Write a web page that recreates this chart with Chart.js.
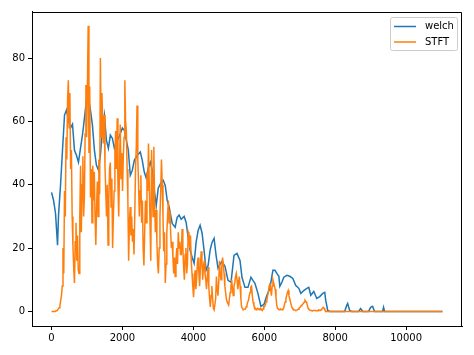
<!DOCTYPE html>
<html>
<head>
<meta charset="utf-8">
<script src="https://cdn.jsdelivr.net/npm/chart.js@4.4.1/dist/chart.umd.min.js"></script>
<style>
  html, body { margin: 0; padding: 0; background: #fff; }
</style>
</head>
<body>
<canvas id="chart" width="474" height="355"></canvas>
<script>
// Ticks
const xTicks = [0, 2000, 4000, 6000, 8000, 10000];
const yTicks = [0, 20, 40, 60, 80];

// welch PSD (frequency in Hz, value)
const welchFreq = [0,56,112,169,197,253,309,366,422,478,534,591,647,703,759,816,872,928,984,1040,
  1097,1153,1209,1265,1322,1378,1434,1490,1547,1603,1659,1715,1772,1828,1912,1997,2053,2109,2165,2221,
  2278,2334,2418,2503,2559,2615,2671,2728,2784,2840,2896,2953,3009,3093,3149,3206,3262,3318,3403,3487,
  3543,3599,3656,3740,3796,3852,3909,3965,4021,4077,4134,4190,4246,4302,4359,4415,4471,4527,4584,4640,
  4696,4752,4809,4893,4977,5062,5146,5230,5315,5371,5455,5540,5624,5680,5736,5821,5905,5990,6074,6158,
  6243,6299,6355,6411,6439,6496,6552,6636,6721,6805,6889,6974,7030,7114,7199,7255,7311,7396,7480,7564,
  7649,7705,7733,7789,7845,8267,8324,8352,8408,8464,8661,8717,8774,8942,8999,9055,9111,9336,9364,9392,
  11025];
const welchVals = [37.6,35.1,31.0,20.9,30.4,39.8,50.9,62.0,63.6,60.4,57.9,59.1,50.9,49.3,47.1,51.5,55.7,61.0,66.7,67.7,
  63.6,58.8,50.9,46.2,44.6,49.3,57.2,62.0,54.1,51.5,55.7,54.7,51.5,53.4,55.3,57.9,57.2,54.1,50.9,43.0,
  44.6,47.7,49.3,50.3,47.7,44.0,42.1,45.2,47.1,44.6,38.3,33.5,38.9,40.8,41.4,39.8,35.1,32.9,27.8,26.6,
  29.7,30.4,29.1,30.0,28.1,23.4,19.3,17.1,15.2,21.8,25.6,27.2,24.7,19.3,13.0,14.5,19.3,21.8,23.1,17.7,
  13.6,14.9,15.8,14.2,9.8,9.2,17.7,18.3,16.1,10.8,7.6,7.6,10.8,9.8,8.9,5.7,1.6,2.2,5.1,7.3,
  13.0,13.0,12.0,11.1,7.9,9.2,10.8,11.4,11.1,10.4,8.2,7.3,5.7,6.6,7.3,7.6,5.1,6.3,4.1,4.7,
  5.7,6.0,3.5,0.3,0,0,1.9,2.5,0.3,0,0,0.9,0,0,1.3,1.6,0,0,1.3,0,
  0];

// STFT mean spectrum, one value every STFT_STEP Hz from 0 Hz
const STFT_STEP = 21.53;
const stftVals = [
  0,0,0,0,0,0,0.2,0.3,0.5,0.8,
  1.2,2,3.5,5,8,20,12,38,30,55,
  48,67,73,58,69,45,51,30,21,14,
  9,22,28,16,24,13,12,30,46,25,
  40,49,30,36,56,71.5,55,72,90.2,50,
  71,36,45,28,46,35,44,30,21,33,
  41,30,48,37,80,55,69,60,53,62,
  46,38,30,40,21,35,45,47,33,42,
  20,30,38,50,57,45,61,40,30,45,
  59,42,50,38,49,55,73,60,57,45,
  35,16,28,33,24,30,22,26,18,30,
  45,52,65,48,40,30,38,43,28,35,
  20,14.5,25,35,28,44,38,53,40,28,
  16,51,40,30,52,35,25,32,22,15,
  12,20,30,38,48,40,30,19,25,9,
  15,25,30,35,28,32,25,20,22,17,
  12,17,11,16,20,15,25,20,22,18,
  18,26,20,14,10,18,20,12,15,25,
  24,20,24,16,12,8,4.5,9,13,7,
  10,15,17,12,8,14,19,16,10,14,
  16,12,10,7,11,14,8,4,1.4,5,
  8,4,1,0.5,0.5,4,11,7,5,9,
  16,12,10,14,17,15,12,8,6,4,
  3,2.5,2,4,6,8,10,7,5,8,
  9,11,12,10,7,9,11,8,4,1.4,
  1,0.5,0.5,0.8,0.8,1.5,2,3,3.5,5,
  6,7.7,8,5,3,2,1.4,0.8,0.5,0.8,
  1,0.8,0.5,0.8,1,0.5,0.3,0.8,1.5,1.5,
  2,3,3.5,5,6,8,9,7,5,8,
  10,9,8,7,4.5,2,1,0.8,0.5,0.6,
  0.8,0.5,0.5,0.8,1,2,3,4,5,6,
  6.6,5,4,3,2,1.2,0.8,0.6,0.5,0.4,
  0.3,0.4,0.5,0.7,1,1.2,1.5,1.8,2,2.3,
  2.5,3,3.5,3.2,3,2,1,0.7,0.5,0.4,
  0.3,0.2,0.2,0.3,0.3,0.3,0.3,0.2,0.2,0.3,
  0.5,0.3,0.3,0.5,0.8,1.1,1.3,1,0.5,0.2,
  0];
const stftEndFreq = 11025;

const welchPoints = welchFreq.map((f, i) => ({ x: f, y: welchVals[i] }));
const stftPoints = stftVals.map((v, i) => ({ x: i * STFT_STEP, y: v }));
stftPoints.push({ x: stftEndFreq, y: 0 });

const FONT = { family: 'DejaVu Sans', size: 10 };

// Top and right spines
const framePlugin = {
  id: 'frame',
  afterDraw(chart) {
    const { ctx, chartArea: a } = chart;
    ctx.save();
    ctx.strokeStyle = '#000';
    ctx.lineWidth = 1;
    ctx.beginPath();
    ctx.moveTo(Math.round(a.left) + 0.5, Math.round(a.top) + 0.5);
    ctx.lineTo(Math.round(a.right) - 0.5, Math.round(a.top) + 0.5);
    ctx.lineTo(Math.round(a.right) - 0.5, Math.round(a.bottom) + 0.5);
    ctx.stroke();
    ctx.restore();
  }
};

// matplotlib style legend in the upper right corner
const legendPlugin = {
  id: 'mplLegend',
  afterDraw(chart) {
    const { ctx, chartArea: a } = chart;
    const w = 67, h = 33;
    const x0 = Math.round(a.right - 5 - w), y0 = Math.round(a.top + 5);
    ctx.save();
    ctx.fillStyle = 'rgba(255,255,255,0.8)';
    ctx.strokeStyle = '#cccccc';
    ctx.lineWidth = 1;
    ctx.beginPath();
    ctx.roundRect(x0 + 0.5, y0 + 0.5, w, h, 2);
    ctx.fill();
    ctx.stroke();
    ctx.font = '10px "DejaVu Sans"';
    ctx.textBaseline = 'middle';
    ctx.fillStyle = '#000';
    chart.data.datasets.forEach((ds, i) => {
      const y = y0 + 9.5 + i * 15.5;
      ctx.strokeStyle = ds.borderColor;
      ctx.lineWidth = 1.5;
      ctx.beginPath();
      ctx.moveTo(x0 + 4, y);
      ctx.lineTo(x0 + 26, y);
      ctx.stroke();
      ctx.fillText(ds.label, x0 + 35, y);
    });
    ctx.restore();
  }
};

new Chart(document.getElementById('chart').getContext('2d'), {
  type: 'line',
  data: {
    datasets: [
      { label: 'welch', data: welchPoints, borderColor: '#1f77b4', borderWidth: 1.5, order: 1 },
      { label: 'STFT', data: stftPoints, borderColor: '#ff7f0e', borderWidth: 1.5, order: 0 }
    ]
  },
  options: {
    responsive: false,
    animation: false,
    events: [],
    layout: { padding: { top: 11.5, right: 12, left: 0, bottom: 0 } },
    elements: { point: { radius: 0 }, line: { tension: 0, fill: false } },
    plugins: { legend: { display: false }, tooltip: { enabled: false } },
    scales: {
      x: {
        type: 'linear',
        min: -551.25,
        max: 11576.25,
        afterBuildTicks: s => { s.ticks = xTicks.map(v => ({ value: v })); },
        afterFit: s => { s.height = 29; },
        ticks: { font: FONT, color: '#000', padding: 2, maxRotation: 0, autoSkip: false, callback: v => String(v) },
        grid: { display: true, drawOnChartArea: false, drawTicks: true, tickLength: 4, color: '#000', lineWidth: 1 },
        border: { display: true, color: '#000', width: 1 }
      },
      y: {
        type: 'linear',
        min: -4.6,
        max: 94.7,
        afterBuildTicks: s => { s.ticks = yTicks.map(v => ({ value: v })); },
        afterFit: s => { s.width = 32; },
        ticks: { font: FONT, color: '#000', padding: 3, autoSkip: false, callback: v => String(v) },
        grid: { display: true, drawOnChartArea: false, drawTicks: true, tickLength: 4, color: '#000', lineWidth: 1 },
        border: { display: true, color: '#000', width: 1 }
      }
    }
  },
  plugins: [framePlugin, legendPlugin]
});
</script>
</body>
</html>
